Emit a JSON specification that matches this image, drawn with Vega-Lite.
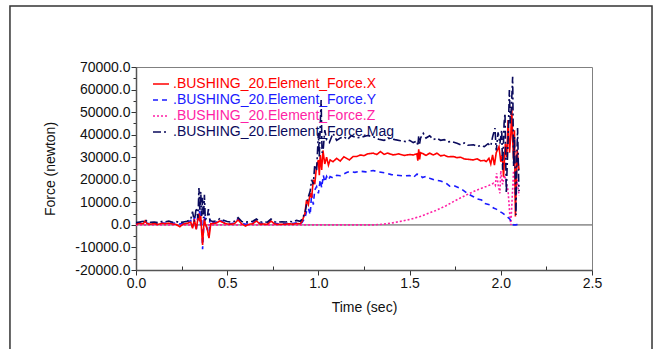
{
"$schema": "https://vega.github.io/schema/vega-lite/v6.json",
"width": 456, "height": 203,
"autosize": "none",
"padding": {"left": 136, "top": 67, "right": 62, "bottom": 79},
"background": "white",
"config": {
  "font": "Liberation Sans",
  "view": {"stroke": "#808080", "strokeWidth": 1},
  "axis": {"labelFont": "Liberation Sans", "labelFontSize": 14, "labelColor": "#111", "titleFont": "Liberation Sans", "titleFontSize": 14, "titleFontWeight": "normal", "titleColor": "#111", "domainColor": "#555", "domainWidth": 1.5, "tickColor": "#333", "grid": false, "labelOverlap": false, "labelFlush": false}
},
"resolve": {"axis": {"x": "independent", "y": "independent"}},
"layer": [
  {
    "data": {"values": [{}]},
    "mark": {"type": "rect", "fill": null, "stroke": "#333", "strokeWidth": 1.5, "clip": false},
    "encoding": {
      "x": {"datum": -0.691, "type": "quantitative", "axis": {"orient": "bottom", "values": [0.25, 0.75, 1.25, 1.75, 2.25], "labels": false, "domain": false, "tickSize": -4, "title": null}},
      "x2": {"datum": 2.829},
      "y": {"datum": 97000, "type": "quantitative", "axis": {"orient": "left", "values": [-15000, -5000, 5000, 15000, 25000, 35000, 45000, 55000, 65000], "labels": false, "domain": false, "tickSize": 3, "title": null}},
      "y2": {"datum": -60000}}
  },
  {
    "data": {"values": [{}]},
    "mark": {"type": "rule", "stroke": "#999", "strokeWidth": 1.8},
    "encoding": {"y": {"datum": 0, "type": "quantitative", "axis": null}}
  },
  {
    "data": {"values": [
{"t":0,"s":"Z","f":0},{"t":0.5,"s":"Z","f":0},{"t":1.0,"s":"Z","f":0},{"t":1.3,"s":"Z","f":0},{"t":1.356,"s":"Z","f":300},{"t":1.4,"s":"Z","f":800},{"t":1.447,"s":"Z","f":1500},{"t":1.5,"s":"Z","f":2400},{"t":1.557,"s":"Z","f":3700},{"t":1.6,"s":"Z","f":5000},{"t":1.65,"s":"Z","f":6600},{"t":1.7,"s":"Z","f":8500},{"t":1.74,"s":"Z","f":10300},{"t":1.78,"s":"Z","f":12000},{"t":1.83,"s":"Z","f":14000},{"t":1.87,"s":"Z","f":15500},{"t":1.92,"s":"Z","f":17000},{"t":1.94,"s":"Z","f":17700},{"t":1.96,"s":"Z","f":18500},{"t":1.97,"s":"Z","f":17500},{"t":1.977,"s":"Z","f":22900},{"t":1.985,"s":"Z","f":18000},{"t":1.995,"s":"Z","f":14000},{"t":2.0,"s":"Z","f":24000},{"t":2.01,"s":"Z","f":18000},{"t":2.02,"s":"Z","f":22000},{"t":2.03,"s":"Z","f":19000},{"t":2.04,"s":"Z","f":15000},{"t":2.05,"s":"Z","f":3700},{"t":2.055,"s":"Z","f":0},{"t":2.06,"s":"Z","f":8000},{"t":2.07,"s":"Z","f":24000},{"t":2.08,"s":"Z","f":12000},{"t":2.09,"s":"Z","f":20000},{"t":2.1,"s":"Z","f":13000},
{"t":0,"s":"Y","f":500},{"t":0.02,"s":"Y","f":900},{"t":0.04,"s":"Y","f":700},{"t":0.05,"s":"Y","f":1500},{"t":0.06,"s":"Y","f":800},{"t":0.08,"s":"Y","f":500},{"t":0.1,"s":"Y","f":800},{"t":0.12,"s":"Y","f":600},{"t":0.14,"s":"Y","f":900},{"t":0.16,"s":"Y","f":700},{"t":0.18,"s":"Y","f":1000},{"t":0.2,"s":"Y","f":700},{"t":0.22,"s":"Y","f":900},{"t":0.24,"s":"Y","f":400},{"t":0.26,"s":"Y","f":800},{"t":0.28,"s":"Y","f":1000},{"t":0.3,"s":"Y","f":2000},{"t":0.31,"s":"Y","f":-1000},{"t":0.32,"s":"Y","f":3500},{"t":0.33,"s":"Y","f":-2500},{"t":0.34,"s":"Y","f":5000},{"t":0.345,"s":"Y","f":2000},{"t":0.35,"s":"Y","f":7000},{"t":0.355,"s":"Y","f":-1000},{"t":0.36,"s":"Y","f":3000},{"t":0.365,"s":"Y","f":-10800},{"t":0.37,"s":"Y","f":-3000},{"t":0.375,"s":"Y","f":4000},{"t":0.38,"s":"Y","f":1000},{"t":0.39,"s":"Y","f":-2000},{"t":0.4,"s":"Y","f":-5500},{"t":0.405,"s":"Y","f":2500},{"t":0.41,"s":"Y","f":800},{"t":0.42,"s":"Y","f":900},{"t":0.44,"s":"Y","f":1200},{"t":0.46,"s":"Y","f":2200},{"t":0.48,"s":"Y","f":1200},{"t":0.5,"s":"Y","f":600},{"t":0.52,"s":"Y","f":500},{"t":0.54,"s":"Y","f":900},{"t":0.56,"s":"Y","f":2600},{"t":0.58,"s":"Y","f":700},{"t":0.6,"s":"Y","f":300},{"t":0.62,"s":"Y","f":600},{"t":0.64,"s":"Y","f":800},{"t":0.66,"s":"Y","f":2200},{"t":0.68,"s":"Y","f":600},{"t":0.7,"s":"Y","f":700},{"t":0.72,"s":"Y","f":500},{"t":0.74,"s":"Y","f":2000},{"t":0.76,"s":"Y","f":700},{"t":0.78,"s":"Y","f":500},{"t":0.8,"s":"Y","f":600},{"t":0.82,"s":"Y","f":500},{"t":0.84,"s":"Y","f":800},{"t":0.86,"s":"Y","f":600},{"t":0.88,"s":"Y","f":900},{"t":0.9,"s":"Y","f":700},{"t":0.91,"s":"Y","f":1000},{"t":0.926,"s":"Y","f":3000},{"t":0.935,"s":"Y","f":6000},{"t":0.945,"s":"Y","f":7400},{"t":0.955,"s":"Y","f":4500},{"t":0.963,"s":"Y","f":14000},{"t":0.972,"s":"Y","f":9000},{"t":0.98,"s":"Y","f":15500},{"t":0.99,"s":"Y","f":17000},{"t":1.0,"s":"Y","f":14000},{"t":1.01,"s":"Y","f":20000},{"t":1.018,"s":"Y","f":16500},{"t":1.027,"s":"Y","f":22000},{"t":1.035,"s":"Y","f":19000},{"t":1.045,"s":"Y","f":21500},{"t":1.055,"s":"Y","f":20000},{"t":1.064,"s":"Y","f":21400},{"t":1.08,"s":"Y","f":20800},{"t":1.1,"s":"Y","f":22000},{"t":1.12,"s":"Y","f":21800},{"t":1.155,"s":"Y","f":23200},{"t":1.17,"s":"Y","f":23600},{"t":1.2,"s":"Y","f":23300},{"t":1.23,"s":"Y","f":23800},{"t":1.26,"s":"Y","f":23500},{"t":1.3,"s":"Y","f":24100},{"t":1.33,"s":"Y","f":23500},{"t":1.375,"s":"Y","f":22900},{"t":1.4,"s":"Y","f":22300},{"t":1.43,"s":"Y","f":22000},{"t":1.465,"s":"Y","f":21700},{"t":1.5,"s":"Y","f":21900},{"t":1.52,"s":"Y","f":21000},{"t":1.54,"s":"Y","f":22500},{"t":1.557,"s":"Y","f":22200},{"t":1.57,"s":"Y","f":21000},{"t":1.59,"s":"Y","f":21500},{"t":1.61,"s":"Y","f":20700},{"t":1.64,"s":"Y","f":19800},{"t":1.67,"s":"Y","f":19500},{"t":1.7,"s":"Y","f":18500},{"t":1.72,"s":"Y","f":17200},{"t":1.74,"s":"Y","f":17500},{"t":1.776,"s":"Y","f":16300},{"t":1.8,"s":"Y","f":15000},{"t":1.82,"s":"Y","f":13800},{"t":1.85,"s":"Y","f":12500},{"t":1.87,"s":"Y","f":11500},{"t":1.895,"s":"Y","f":11000},{"t":1.91,"s":"Y","f":9500},{"t":1.94,"s":"Y","f":8900},{"t":1.96,"s":"Y","f":7500},{"t":1.975,"s":"Y","f":7000},{"t":1.995,"s":"Y","f":5900},{"t":2.01,"s":"Y","f":5200},{"t":2.03,"s":"Y","f":4000},{"t":2.05,"s":"Y","f":2500},{"t":2.06,"s":"Y","f":750},{"t":2.065,"s":"Y","f":200},{"t":2.07,"s":"Y","f":0},{"t":2.08,"s":"Y","f":0},{"t":2.09,"s":"Y","f":100},{"t":2.1,"s":"Y","f":0},
{"t":0,"s":"X","f":300},{"t":0.02,"s":"X","f":700},{"t":0.04,"s":"X","f":500},{"t":0.05,"s":"X","f":1800},{"t":0.06,"s":"X","f":600},{"t":0.08,"s":"X","f":300},{"t":0.1,"s":"X","f":600},{"t":0.12,"s":"X","f":200},{"t":0.14,"s":"X","f":700},{"t":0.16,"s":"X","f":500},{"t":0.18,"s":"X","f":800},{"t":0.2,"s":"X","f":400},{"t":0.22,"s":"X","f":200},{"t":0.24,"s":"X","f":-800},{"t":0.26,"s":"X","f":400},{"t":0.28,"s":"X","f":700},{"t":0.3,"s":"X","f":1200},{"t":0.31,"s":"X","f":-1500},{"t":0.32,"s":"X","f":2500},{"t":0.33,"s":"X","f":-2000},{"t":0.34,"s":"X","f":3000},{"t":0.345,"s":"X","f":5000},{"t":0.35,"s":"X","f":1500},{"t":0.355,"s":"X","f":4000},{"t":0.36,"s":"X","f":-3000},{"t":0.365,"s":"X","f":-8900},{"t":0.37,"s":"X","f":-2000},{"t":0.375,"s":"X","f":2500},{"t":0.38,"s":"X","f":500},{"t":0.39,"s":"X","f":-1500},{"t":0.4,"s":"X","f":-5900},{"t":0.41,"s":"X","f":500},{"t":0.42,"s":"X","f":600},{"t":0.44,"s":"X","f":800},{"t":0.46,"s":"X","f":1800},{"t":0.48,"s":"X","f":900},{"t":0.5,"s":"X","f":400},{"t":0.52,"s":"X","f":300},{"t":0.54,"s":"X","f":600},{"t":0.56,"s":"X","f":2200},{"t":0.58,"s":"X","f":400},{"t":0.6,"s":"X","f":-500},{"t":0.62,"s":"X","f":300},{"t":0.64,"s":"X","f":500},{"t":0.66,"s":"X","f":1800},{"t":0.68,"s":"X","f":300},{"t":0.7,"s":"X","f":400},{"t":0.72,"s":"X","f":200},{"t":0.74,"s":"X","f":1700},{"t":0.76,"s":"X","f":400},{"t":0.78,"s":"X","f":200},{"t":0.8,"s":"X","f":300},{"t":0.82,"s":"X","f":300},{"t":0.84,"s":"X","f":500},{"t":0.86,"s":"X","f":300},{"t":0.88,"s":"X","f":600},{"t":0.9,"s":"X","f":500},{"t":0.91,"s":"X","f":1500},{"t":0.926,"s":"X","f":5000},{"t":0.935,"s":"X","f":11000},{"t":0.945,"s":"X","f":9000},{"t":0.955,"s":"X","f":14000},{"t":0.963,"s":"X","f":12000},{"t":0.972,"s":"X","f":20000},{"t":0.98,"s":"X","f":18000},{"t":0.99,"s":"X","f":26000},{"t":1.0,"s":"X","f":28800},{"t":1.005,"s":"X","f":22000},{"t":1.01,"s":"X","f":31000},{"t":1.018,"s":"X","f":24400},{"t":1.025,"s":"X","f":33000},{"t":1.035,"s":"X","f":27000},{"t":1.045,"s":"X","f":30000},{"t":1.055,"s":"X","f":26500},{"t":1.064,"s":"X","f":28800},{"t":1.08,"s":"X","f":28000},{"t":1.1,"s":"X","f":29500},{"t":1.12,"s":"X","f":28300},{"t":1.14,"s":"X","f":30200},{"t":1.155,"s":"X","f":29500},{"t":1.17,"s":"X","f":28800},{"t":1.19,"s":"X","f":30300},{"t":1.21,"s":"X","f":30300},{"t":1.23,"s":"X","f":31000},{"t":1.25,"s":"X","f":30700},{"t":1.27,"s":"X","f":31500},{"t":1.3,"s":"X","f":31800},{"t":1.32,"s":"X","f":31200},{"t":1.34,"s":"X","f":32500},{"t":1.36,"s":"X","f":31300},{"t":1.38,"s":"X","f":31800},{"t":1.41,"s":"X","f":31000},{"t":1.44,"s":"X","f":31500},{"t":1.47,"s":"X","f":30800},{"t":1.5,"s":"X","f":31200},{"t":1.52,"s":"X","f":31000},{"t":1.54,"s":"X","f":31500},{"t":1.545,"s":"X","f":28500},{"t":1.55,"s":"X","f":33500},{"t":1.555,"s":"X","f":29000},{"t":1.56,"s":"X","f":32000},{"t":1.575,"s":"X","f":31500},{"t":1.59,"s":"X","f":30800},{"t":1.61,"s":"X","f":31800},{"t":1.63,"s":"X","f":31000},{"t":1.65,"s":"X","f":31800},{"t":1.67,"s":"X","f":30600},{"t":1.69,"s":"X","f":30900},{"t":1.71,"s":"X","f":30200},{"t":1.74,"s":"X","f":30300},{"t":1.76,"s":"X","f":29800},{"t":1.78,"s":"X","f":30000},{"t":1.8,"s":"X","f":29200},{"t":1.83,"s":"X","f":29000},{"t":1.85,"s":"X","f":28800},{"t":1.87,"s":"X","f":29300},{"t":1.89,"s":"X","f":28400},{"t":1.91,"s":"X","f":28600},{"t":1.92,"s":"X","f":28100},{"t":1.935,"s":"X","f":29500},{"t":1.945,"s":"X","f":27000},{"t":1.955,"s":"X","f":31000},{"t":1.965,"s":"X","f":26500},{"t":1.975,"s":"X","f":32000},{"t":1.99,"s":"X","f":34700},{"t":2.0,"s":"X","f":28000},{"t":2.008,"s":"X","f":31000},{"t":2.015,"s":"X","f":21400},{"t":2.025,"s":"X","f":36000},{"t":2.033,"s":"X","f":30000},{"t":2.04,"s":"X","f":46500},{"t":2.048,"s":"X","f":32000},{"t":2.055,"s":"X","f":40000},{"t":2.06,"s":"X","f":52400},{"t":2.065,"s":"X","f":38000},{"t":2.07,"s":"X","f":28800},{"t":2.075,"s":"X","f":42000},{"t":2.08,"s":"X","f":3700},{"t":2.085,"s":"X","f":20000},{"t":2.09,"s":"X","f":33200},{"t":2.095,"s":"X","f":28000},{"t":2.1,"s":"X","f":24400},
{"t":0,"s":"Mag","f":1000},{"t":0.02,"s":"Mag","f":1300},{"t":0.04,"s":"Mag","f":1600},{"t":0.05,"s":"Mag","f":2500},{"t":0.06,"s":"Mag","f":1500},{"t":0.08,"s":"Mag","f":1100},{"t":0.1,"s":"Mag","f":1300},{"t":0.12,"s":"Mag","f":1000},{"t":0.14,"s":"Mag","f":1500},{"t":0.16,"s":"Mag","f":1400},{"t":0.18,"s":"Mag","f":1700},{"t":0.2,"s":"Mag","f":1200},{"t":0.22,"s":"Mag","f":1500},{"t":0.24,"s":"Mag","f":1000},{"t":0.26,"s":"Mag","f":1300},{"t":0.28,"s":"Mag","f":1600},{"t":0.3,"s":"Mag","f":2500},{"t":0.31,"s":"Mag","f":5900},{"t":0.32,"s":"Mag","f":1500},{"t":0.33,"s":"Mag","f":7500},{"t":0.34,"s":"Mag","f":3000},{"t":0.345,"s":"Mag","f":16300},{"t":0.35,"s":"Mag","f":6000},{"t":0.355,"s":"Mag","f":14700},{"t":0.36,"s":"Mag","f":4000},{"t":0.365,"s":"Mag","f":12000},{"t":0.37,"s":"Mag","f":3000},{"t":0.375,"s":"Mag","f":13300},{"t":0.38,"s":"Mag","f":2500},{"t":0.39,"s":"Mag","f":3000},{"t":0.397,"s":"Mag","f":7000},{"t":0.405,"s":"Mag","f":2000},{"t":0.42,"s":"Mag","f":1500},{"t":0.44,"s":"Mag","f":1800},{"t":0.46,"s":"Mag","f":2800},{"t":0.48,"s":"Mag","f":2000},{"t":0.5,"s":"Mag","f":1500},{"t":0.52,"s":"Mag","f":1200},{"t":0.54,"s":"Mag","f":1600},{"t":0.56,"s":"Mag","f":3200},{"t":0.58,"s":"Mag","f":1500},{"t":0.6,"s":"Mag","f":1200},{"t":0.62,"s":"Mag","f":1400},{"t":0.64,"s":"Mag","f":1600},{"t":0.66,"s":"Mag","f":2600},{"t":0.68,"s":"Mag","f":1300},{"t":0.7,"s":"Mag","f":1300},{"t":0.72,"s":"Mag","f":1200},{"t":0.74,"s":"Mag","f":2600},{"t":0.76,"s":"Mag","f":1400},{"t":0.78,"s":"Mag","f":1200},{"t":0.8,"s":"Mag","f":1400},{"t":0.82,"s":"Mag","f":1300},{"t":0.84,"s":"Mag","f":1500},{"t":0.86,"s":"Mag","f":1400},{"t":0.88,"s":"Mag","f":2000},{"t":0.9,"s":"Mag","f":1600},{"t":0.91,"s":"Mag","f":2500},{"t":0.926,"s":"Mag","f":5200},{"t":0.935,"s":"Mag","f":9000},{"t":0.945,"s":"Mag","f":12500},{"t":0.955,"s":"Mag","f":15000},{"t":0.963,"s":"Mag","f":20000},{"t":0.972,"s":"Mag","f":18000},{"t":0.98,"s":"Mag","f":26600},{"t":0.99,"s":"Mag","f":24000},{"t":1.0,"s":"Mag","f":40800},{"t":1.005,"s":"Mag","f":30000},{"t":1.01,"s":"Mag","f":44000},{"t":1.015,"s":"Mag","f":55400},{"t":1.02,"s":"Mag","f":32000},{"t":1.027,"s":"Mag","f":34000},{"t":1.035,"s":"Mag","f":42000},{"t":1.045,"s":"Mag","f":37700},{"t":1.06,"s":"Mag","f":36500},{"t":1.08,"s":"Mag","f":40600},{"t":1.1,"s":"Mag","f":37500},{"t":1.12,"s":"Mag","f":38500},{"t":1.14,"s":"Mag","f":39100},{"t":1.16,"s":"Mag","f":37800},{"t":1.18,"s":"Mag","f":39500},{"t":1.21,"s":"Mag","f":38600},{"t":1.24,"s":"Mag","f":39000},{"t":1.27,"s":"Mag","f":39600},{"t":1.3,"s":"Mag","f":39100},{"t":1.33,"s":"Mag","f":38000},{"t":1.36,"s":"Mag","f":37500},{"t":1.39,"s":"Mag","f":38400},{"t":1.42,"s":"Mag","f":37800},{"t":1.45,"s":"Mag","f":37300},{"t":1.48,"s":"Mag","f":36900},{"t":1.5,"s":"Mag","f":37500},{"t":1.52,"s":"Mag","f":36500},{"t":1.54,"s":"Mag","f":37200},{"t":1.545,"s":"Mag","f":35000},{"t":1.55,"s":"Mag","f":39500},{"t":1.555,"s":"Mag","f":36000},{"t":1.56,"s":"Mag","f":38500},{"t":1.575,"s":"Mag","f":40600},{"t":1.59,"s":"Mag","f":38500},{"t":1.61,"s":"Mag","f":39500},{"t":1.63,"s":"Mag","f":37800},{"t":1.65,"s":"Mag","f":38400},{"t":1.67,"s":"Mag","f":37500},{"t":1.69,"s":"Mag","f":37800},{"t":1.71,"s":"Mag","f":36800},{"t":1.73,"s":"Mag","f":37000},{"t":1.76,"s":"Mag","f":36200},{"t":1.78,"s":"Mag","f":35500},{"t":1.8,"s":"Mag","f":36300},{"t":1.82,"s":"Mag","f":35300},{"t":1.85,"s":"Mag","f":35500},{"t":1.87,"s":"Mag","f":34800},{"t":1.89,"s":"Mag","f":35200},{"t":1.91,"s":"Mag","f":34700},{"t":1.93,"s":"Mag","f":36000},{"t":1.945,"s":"Mag","f":35000},{"t":1.955,"s":"Mag","f":39000},{"t":1.968,"s":"Mag","f":42900},{"t":1.975,"s":"Mag","f":33000},{"t":1.985,"s":"Mag","f":41000},{"t":1.995,"s":"Mag","f":36000},{"t":2.005,"s":"Mag","f":42100},{"t":2.01,"s":"Mag","f":24400},{"t":2.018,"s":"Mag","f":45000},{"t":2.023,"s":"Mag","f":49500},{"t":2.03,"s":"Mag","f":14000},{"t":2.04,"s":"Mag","f":38000},{"t":2.047,"s":"Mag","f":59800},{"t":2.052,"s":"Mag","f":45000},{"t":2.058,"s":"Mag","f":52000},{"t":2.065,"s":"Mag","f":65700},{"t":2.07,"s":"Mag","f":26000},{"t":2.075,"s":"Mag","f":39100},{"t":2.083,"s":"Mag","f":4400},{"t":2.088,"s":"Mag","f":30000},{"t":2.092,"s":"Mag","f":42900},{"t":2.098,"s":"Mag","f":20000},{"t":2.1,"s":"Mag","f":15000}
    ]},
    "mark": {"type": "line", "strokeWidth": 1.6},
    "encoding": {
      "x": {"field": "t", "type": "quantitative", "title": "Time (sec)",
        "scale": {"domain": [0, 2.5], "nice": false, "zero": false},
        "axis": {"orient": "bottom", "values": [0, 0.5, 1, 1.5, 2, 2.5], "format": ".1f", "labelOverlap": false,
          "tickSize": 5, "labelPadding": 1, "titlePadding": 10}},
      "y": {"field": "f", "type": "quantitative", "title": "Force (newton)",
        "scale": {"domain": [-20000, 70000], "nice": false, "zero": false},
        "axis": {"orient": "left", "values": [-20000, -10000, 0, 10000, 20000, 30000, 40000, 50000, 60000, 70000], "labelOverlap": false,
          "labelExpr": "toString(datum.value) + '.0'",
          "tickSize": 5, "labelPadding": 1, "titlePadding": 17}},
      "color": {"field": "s", "type": "nominal",
        "scale": {"domain": ["X", "Y", "Z", "Mag"], "range": ["#ff0000", "#1a1aff", "#ff1fa5", "#0a0a5c"]},
        "legend": {"orient": "none", "legendX": 16, "legendY": 8, "title": null, "padding": 0,
          "symbolType": "stroke", "symbolSize": 256, "symbolStrokeWidth": 1.6, "labelFont": "Liberation Sans", "labelFontSize": 14,
          "labelOffset": 3, "rowPadding": 0, "labelLimit": 400,
          "labelExpr": "'.BUSHING_20.Element_Force.' + datum.label",
          "encode": {"labels": {"update": {"fill": {"scale": "color", "field": "value"}}}}}},
      "strokeDash": {"field": "s", "type": "nominal",
        "scale": {"domain": ["X", "Y", "Z", "Mag"], "range": [[1, 0], [5, 4], [2, 2], [8, 3, 2, 3]]},
        "legend": {"orient": "none", "legendX": 16, "legendY": 8, "title": null}}
    }
  }
]
}
